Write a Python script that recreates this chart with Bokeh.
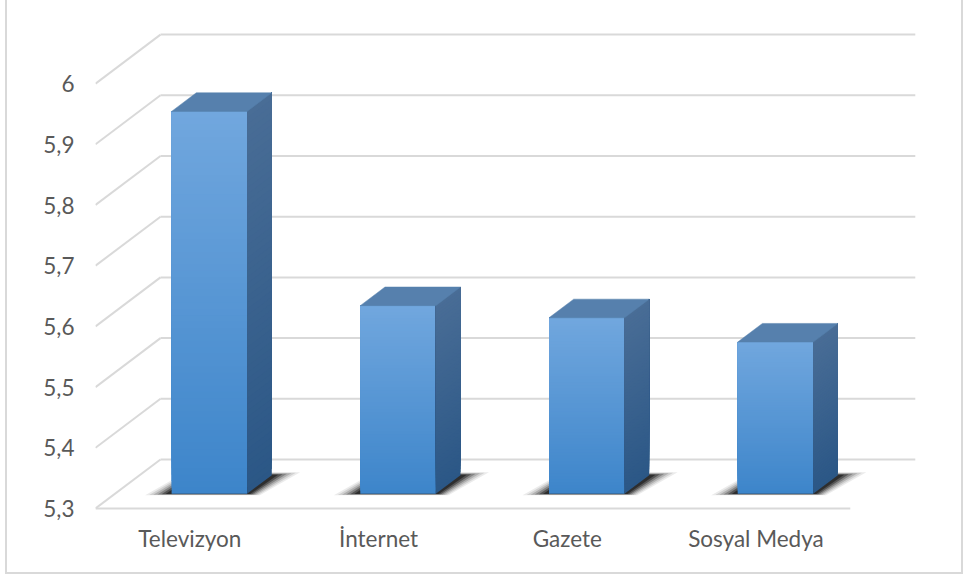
import numpy as np
from bokeh.plotting import figure
from bokeh.models import Range1d, FixedTicker
from bokeh.embed import file_html
from bokeh.resources import INLINE

# ---------------- data ----------------
categories = ["Televizyon", "İnternet", "Gazete", "Sosyal Medya"]
values = [5.93, 5.61, 5.59, 5.55]
y_ticks = [5.3, 5.4, 5.5, 5.6, 5.7, 5.8, 5.9, 6.0]
y_tick_labels = ["5,3", "5,4", "5,5", "5,6", "5,7", "5,8", "5,9", "6"]

# ---------------- layout / style constants ----------------
W, H = 958, 574
BL, BR, BT, BB = 88, 40, 25, 59
PX_X = 188.7      # pixels per category
PX_Y = 607.0      # pixels per value unit
BASE = y_ticks[0]
DX = 65.0 / PX_X  # 3D depth shift (x, category units)
DY = 49.0 / PX_Y  # 3D depth shift (y, value units)
T0 = 0.30         # bar front position in depth
TD = 0.38         # bar depth
HW = 0.20         # bar half width
N = 60            # gradient slices

FONT = "Lato"
FSIZE = "22.5px"
TXT = "#595959"
GRID = "#d9d9d9"

FRONT_TOP = np.array([113, 167, 222])
FRONT_BOT = np.array([61, 133, 202])
SIDE_TOP = np.array([73, 109, 150])
SIDE_BOT = np.array([43, 87, 134])
TOP_FACE = "#5680ad"


def hexc(c):
    c = np.clip(np.round(c), 0, 255).astype(int)
    return "#%02x%02x%02x" % tuple(c)


frame_w = W - BL - BR
frame_h = H - BT - BB
x0 = -0.5
y0 = BASE - 7.0 / PX_Y

p = figure(width=W, height=H,
           x_range=Range1d(x0, x0 + frame_w / PX_X),
           y_range=Range1d(y0, y0 + frame_h / PX_Y),
           output_backend="svg", toolbar_location=None,
           min_border_left=BL, min_border_right=BR,
           min_border_top=BT, min_border_bottom=BB)
p.outline_line_color = None
p.grid.visible = False
p.background_fill_color = "white"
p.border_fill_color = "white"
p.styles = {"margin-left": "5px",
            "border-left": "2px solid #d9d9d9",
            "border-right": "2px solid #d9d9d9",
            "border-bottom": "2px solid #d9d9d9"}

n = len(categories)
xl, xr = -0.5, n - 0.5

# back wall gridlines and left wall diagonals
for v in y_ticks:
    p.line([xl + DX, xr + DX], [v + DY, v + DY], line_color=GRID, line_width=2)
    p.line([xl, xl + DX], [v, v + DY], line_color=GRID, line_width=2)
# floor front edge
p.line([xl, xr], [BASE, BASE], line_color=GRID, line_width=2)

# soft shadows on the floor (layered for a blurred look)
for i in range(n):
    for s, dt, a in [(0.13, 0.06, 0.08), (0.11, 0.05, 0.11), (0.09, 0.04, 0.16),
                     (0.07, 0.03, 0.24), (0.05, 0.02, 0.36), (0.03, 0.01, 0.45)]:
        tf, tb = T0 - dt * 0.5, T0 + TD + dt
        xs = [i - HW - s + tf * DX, i + HW + s * 0.6 + tf * DX,
              i + HW + s + tb * DX, i - HW - s * 0.6 + tb * DX]
        ys = [BASE + tf * DY, BASE + tf * DY, BASE + tb * DY, BASE + tb * DY]
        p.patch(xs, ys, fill_color="black", fill_alpha=a, line_color=None)

# bars (gradient made of stacked slices, each covering from its edge to the top)
for i, v in enumerate(values):
    cx = i + T0 * DX
    yb = BASE + T0 * DY
    yt = v + T0 * DY
    edges = np.linspace(yb, yt, N + 1)[:-1]
    fr = (np.arange(N) + 0.5) / N
    fcols = [hexc(FRONT_BOT + (FRONT_TOP - FRONT_BOT) * f) for f in fr]
    scols = [hexc(SIDE_BOT + (SIDE_TOP - SIDE_BOT) * f) for f in fr]
    p.quad(left=[cx - HW] * N, right=[cx + HW] * N,
           bottom=edges, top=[yt] * N,
           fill_color=fcols, line_color=None)
    sx = cx + HW
    sxs = [[sx, sx, sx + TD * DX, sx + TD * DX] for _ in range(N)]
    sys = [[e, yt, yt + TD * DY, e + TD * DY] for e in edges]
    p.patches(sxs, sys, fill_color=scols, line_color=None)
    p.patch([cx - HW, cx + HW, cx + HW + TD * DX, cx - HW + TD * DX],
            [yt, yt, yt + TD * DY, yt + TD * DY],
            fill_color=TOP_FACE, line_color=TOP_FACE, line_width=0.5)

# axes
ya = p.yaxis[0]
ya.ticker = FixedTicker(ticks=y_ticks)
ya.major_label_overrides = dict(zip(y_ticks, y_tick_labels))
xa = p.xaxis[0]
xa.ticker = FixedTicker(ticks=list(range(n)))
xa.major_label_overrides = {i: c for i, c in enumerate(categories)}
for ax in (xa, ya):
    ax.axis_line_color = None
    ax.major_tick_line_color = None
    ax.minor_tick_line_color = None
    ax.major_tick_in = 0
    ax.major_tick_out = 0
    ax.minor_tick_in = 0
    ax.minor_tick_out = 0
    ax.major_label_text_font = FONT
    ax.major_label_text_font_size = FSIZE
    ax.major_label_text_color = TXT
ya.major_label_standoff = 21
xa.major_label_standoff = 9

open("out.html", "w").write(file_html(p, INLINE))
